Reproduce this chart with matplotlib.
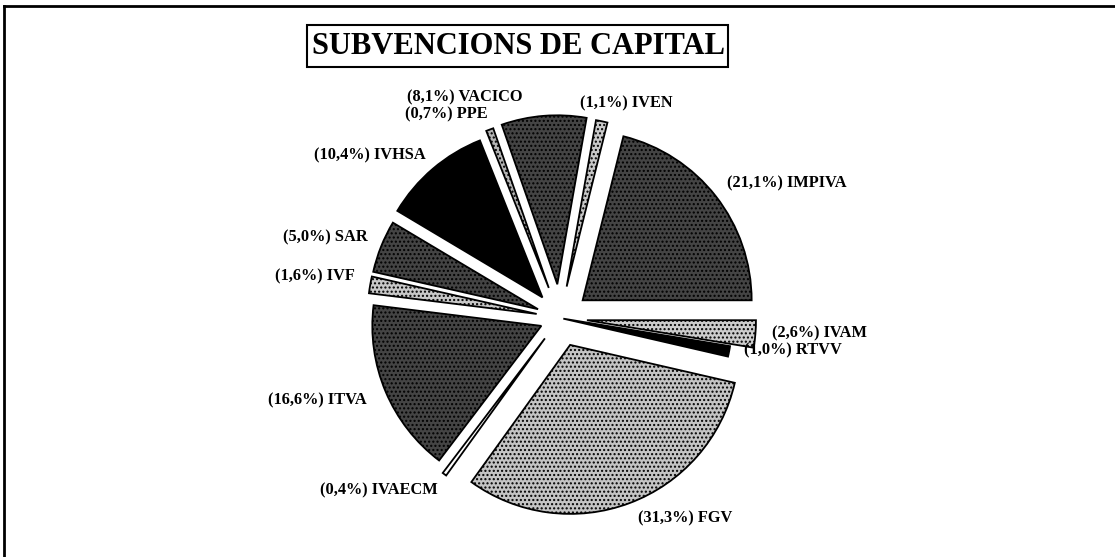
import matplotlib.pyplot as plt
from matplotlib.lines import Line2D
from matplotlib.patches import Rectangle

# Data: capital subsidies by agency (share of total, %)
agencies = ["IMPIVA", "IVEN", "VACICO", "PPE", "IVHSA", "SAR",
            "IVF", "ITVA", "IVAECM", "FGV", "RTVV", "IVAM"]
shares = [21.1, 1.1, 8.1, 0.7, 10.4, 5.0, 1.6, 16.6, 0.4, 31.3, 1.0, 2.6]

# Styling per slice (halftone look of the scanned original)
explode = [0.17, 0.19, 0.20, 0.19, 0.16, 0.14, 0.14, 0.12, 0.15, 0.17, 0.02, 0.16]
colors = ["#444444", "#c8c8c8", "#444444", "#b4b4b4", "#000000", "#444444",
          "#c8c8c8", "#444444", "#ffffff", "#c4c4c4", "#000000", "#cccccc"]
hatches = ["....", "....", "....", "....", None, "....",
           "....", "....", None, "....", None, "...."]
# label anchor (left edge, vertical centre) in image pixels
label_px = [(727, 183), (580, 103), (407, 97), (405, 114), (314, 155), (283, 237),
            (275, 276), (268, 400), (320, 490), (638, 518), (744, 350), (772, 333)]

W, H = 1115, 557
CX, CY, R = 560, 318, 169  # pie centre and radius in pixels

plt.rcParams["hatch.linewidth"] = 1.0
fig = plt.figure(figsize=(W / 100, H / 100), dpi=100)
ax = fig.add_axes([0, 0, 1, 1])

wedges, _ = ax.pie(shares, explode=explode, colors=colors, startangle=0,
                   counterclock=True, radius=1,
                   wedgeprops=dict(edgecolor="black", linewidth=1.3))
for w, h in zip(wedges, hatches):
    if h:
        w.set_hatch(h)

ax.set_xlim(-CX / R, (W - CX) / R)
ax.set_ylim(-(H - CY) / R, CY / R)
ax.set_aspect("auto")
ax.axis("off")

for name, val, (px, py) in zip(agencies, shares, label_px):
    txt = f"({val:.1f}%) {name}".replace(".", ",")
    ax.text((px - CX) / R, (CY - py) / R, txt, ha="left", va="center",
            fontsize=11.8, family="Liberation Serif", fontweight="bold")

# Title in a box
fig.text(518 / W, 1 - 46 / H, "SUBVENCIONS DE CAPITAL", ha="center", va="center",
         fontsize=22, family="Liberation Serif", fontweight="bold")
fig.add_artist(Rectangle((307 / W, 1 - 67 / H), 421 / W, 42 / H, fill=False,
                         lw=1.5, edgecolor="black", transform=fig.transFigure))

# page frame (top and left edges)
fig.add_artist(Line2D([4 / W, 1], [1 - 6 / H] * 2, color="black", lw=2,
                      transform=fig.transFigure))
fig.add_artist(Line2D([4 / W] * 2, [0, 1 - 6 / H], color="black", lw=2,
                      transform=fig.transFigure))

fig.savefig("out.png", dpi=100, facecolor="white")
